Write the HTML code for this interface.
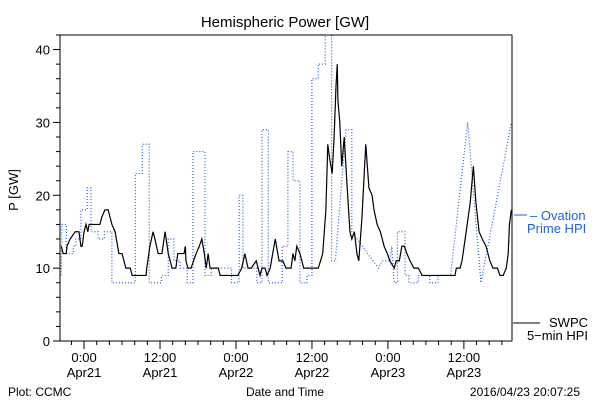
<!DOCTYPE html>
<html><head><meta charset="utf-8"><style>
body{margin:0;background:#fff}
svg{display:block;font-family:"Liberation Sans",sans-serif}
</style></head><body>
<svg id="chart" width="600" height="400" viewBox="0 0 600 400">
<text x="285" y="27" font-size="15" text-anchor="middle">Hemispheric Power [GW]</text>
<text x="18" y="190" font-size="13" text-anchor="middle" transform="rotate(-90 18 190)">P [GW]</text>
<text x="8" y="396" font-size="12">Plot: CCMC</text>
<text x="285" y="396" font-size="12" text-anchor="middle">Date and Time</text>
<text x="580" y="396" font-size="12" text-anchor="end">2016/04/23 20:07:25</text>
<g id="axes"></g>
<g id="series"></g>
<g>
<line x1="514" y1="215" x2="527" y2="215" stroke="#1f5fe0" stroke-width="1"/>
<text x="530" y="220" font-size="13" fill="#1f5fe0">– Ovation</text>
<text x="527" y="233" font-size="13" fill="#1f5fe0">Prime HPI</text>
<line x1="513" y1="323" x2="540" y2="323" stroke="#000" stroke-width="1"/>
<text x="588" y="327" font-size="13" text-anchor="end">SWPC</text>
<text x="588" y="340" font-size="13" text-anchor="end">5−min HPI</text>
</g>
</svg>
<script>
const swpcHours=[-3.6,-3.3,-2.8,-2.7,-2.2,-1.4,-0.8,-0.5,-0.3,0,0.3,0.6,0.8,2.5,2.8,3.3,3.8,4.1,4.4,4.9,5.5,6.0,6.6,7.3,7.6,9.8,9.9,10.4,10.9,11.2,11.7,12.3,12.8,13.3,13.6,13.9,14.5,14.8,15.8,16.0,16.1,16.4,16.9,17.7,18.2,18.6,19.0,19.3,19.6,19.9,21.2,21.5,24.3,24.9,25.4,25.9,26.4,27.2,27.8,28.1,28.6,28.9,29.4,30.2,30.8,31.4,31.9,32.7,33.0,33.3,33.6,34.1,34.7,35.8,37.0,37.7,38.2,38.5,38.8,39.2,39.5,39.8,40.0,40.1,40.4,40.7,41.1,41.5,42.0,42.3,42.7,43.1,43.4,43.9,44.5,45.0,45.5,45.8,46.3,46.8,47.4,47.9,48.3,49.0,49.3,49.8,50.2,50.6,51.0,51.5,52.1,52.8,53.4,58.6,58.8,59.4,59.7,60.2,61.0,61.5,61.9,62.4,62.9,63.5,64.1,64.6,65.3,65.7,66.2,66.7,67.0,67.2,67.5];
const swpcValues=[13,12,12,13,14,15,15,13,13,15,16,15,16,16,17,18,18,17,16,15,12,12,10,10,9,9,10,13,15,14,12,12,15,12,11,10,10,12,12,13,11,10,10,12,13,14,12,10,12,10,10,9,9,10,12,10,10,11,9,10,10,9,10,14,11,11,10,10,12,11,13,12,10,10,10,12,18,27,25,23,28,35,38,33,30,24,28,22,15,14,15,12,11,17,27,21,20,18,16,15,13,12,11,10,11,11,13,13,12,11,10,10,9,9,10,10,11,14,19,24,19,15,14,13,11,10,10,9,9,10,12,16,18];
const ovationHours=[-3.6,-3.5,-2.8,-2.8,-1.7,-1.7,-1.3,-1.3,-0.5,-0.5,0.5,0.5,1.1,1.1,2.2,2.2,3.2,3.2,4.4,4.4,8.1,8.1,9.2,9.2,10.3,10.3,12.2,12.2,13.3,13.3,14.2,14.2,15.2,15.2,16.3,16.3,17.2,17.2,19.1,19.1,20.1,20.1,23.3,23.3,24.5,24.5,25.1,25.1,27.3,27.3,28.1,28.1,29.1,29.1,31.3,31.3,32.2,32.2,33.0,33.0,34.1,34.1,35.2,35.2,36.0,36.0,37.0,37.0,38.1,38.1,39.1,39.1,39.7,40.9,41.4,42.3,42.3,46.5,47.1,48.3,48.6,49.0,49.5,49.5,50.7,50.7,51.3,51.3,52.8,52.8,54.6,54.6,55.9,55.9,57.9,60.6,62.7,67.5];
const ovationValues=[9,16,16,12,12,13,13,14,14,18,18,21,21,15,15,14,14,15,15,8,8,23,23,27,27,8,8,9,9,14,14,11,11,10,10,8,8,26,26,9,9,10,10,8,8,20,20,10,10,8,8,29,29,8,8,13,13,26,26,22,22,8,8,9,9,36,36,38,38,42,42,11,11,24,29,29,15,10,11,11,13,8,8,15,15,9,9,8,8,9,9,8,8,9,9,30,8,30];
const yTicks=[0,10,20,30,40];
const xTickHours=[0,12,24,36,48,60];
const xTickLabels=[["0:00","Apr21"],["12:00","Apr21"],["0:00","Apr22"],["12:00","Apr22"],["0:00","Apr23"],["12:00","Apr23"]];

const L=60,R=512,T=35,B=341,hMin=-3.8,hMax=67.6,vMin=0,vMax=42;
const xs=h=>L+(h-hMin)/(hMax-hMin)*(R-L);
const ys=v=>B-(v-vMin)/(vMax-vMin)*(B-T);
const NS="http://www.w3.org/2000/svg";
const axes=document.getElementById('axes'),series=document.getElementById('series');
function mk(tag,attrs,parent){const e=document.createElementNS(NS,tag);for(const k in attrs)e.setAttribute(k,attrs[k]);parent.appendChild(e);return e;}

const frame=mk('rect',{x:L,y:T,width:R-L,height:B-T,fill:'none',stroke:'#000','stroke-width':1},axes);


for(let v=0;v<=vMax;v+=2){
  const major=v%10===0;
  const t=mk('line',{x1:L-(major?7:4),x2:L,y1:ys(v),y2:ys(v),stroke:'#000'},axes);
  
  
}
yTicks.forEach(v=>{
  const t=mk('text',{x:L-10,y:ys(v)+5,'font-size':13,'text-anchor':'end'},axes);
  t.textContent=v;
  
  
});
for(let h=-2;h<=hMax;h+=2){
  const major=h%12===0;
  const t=mk('line',{x1:xs(h),x2:xs(h),y1:B,y2:B+(major?8:4),stroke:'#000'},axes);
  
  
}
xTickHours.forEach((h,i)=>{
  xTickLabels[i].forEach((s,j)=>{
    const t=mk('text',{x:xs(h),y:362+j*15,'font-size':13,'text-anchor':'middle'},axes);
    t.textContent=s;
    
    
  });
});
const ov=mk('polyline',{points:ovationHours.map((h,i)=>xs(h)+','+ys(ovationValues[i])).join(' '),fill:'none',stroke:'#1f5fe0','stroke-width':1.2,'stroke-dasharray':'1 2'},series);


const sw=mk('polyline',{points:swpcHours.map((h,i)=>xs(h)+','+ys(swpcValues[i])).join(' '),fill:'none',stroke:'#000','stroke-width':1.2},series);


</script>
</body></html>
